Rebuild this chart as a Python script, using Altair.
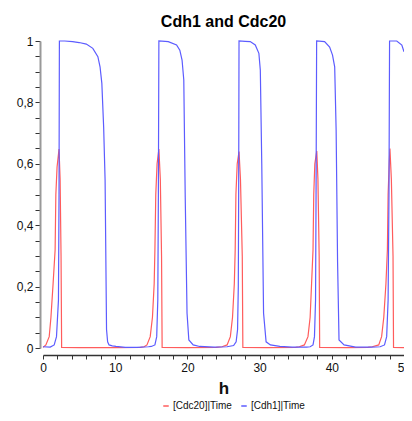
import altair as alt
import pandas as pd

# Cdh1 series (blue)
cdh1_t = [0, 1.0, 1.55, 1.87, 2.14, 2.22, 2.27, 3.0, 4.1, 5.0, 6.0, 6.9, 7.6, 7.9, 8.15, 8.4, 8.6, 8.8,
          8.95, 9.15, 9.6, 10.1, 11.4, 13.0, 14.6, 15.0, 15.5, 15.75, 15.9, 15.98, 16.05,
          17.35, 18.5, 18.95, 19.26, 19.5, 19.7, 19.95, 20.2, 20.8, 21.7, 23.7, 25.5, 26.4, 26.75,
          26.95, 27.05, 27.1, 27.15, 28.0, 28.7, 29.4, 29.9, 30.1, 30.3, 30.55, 30.9, 31.5, 32.8,
          34.5, 36.5, 37.0, 37.4, 37.6, 37.75, 37.82, 37.9, 39.0, 39.7, 40.1, 40.4, 40.6, 40.8,
          41.0, 41.7, 43.3, 45.5, 46.7, 47.3, 47.6, 47.8, 47.92, 48.0, 49.0, 49.7, 50.0]
cdh1_v = [0.004, 0.003, 0.01, 0.037, 0.156, 0.5, 1.0, 1.0, 0.998, 0.995, 0.99, 0.976, 0.949, 0.916,
          0.862, 0.72, 0.547, 0.06, 0.02, 0.01, 0.007, 0.005, 0.002, 0.002, 0.004, 0.005, 0.01,
          0.037, 0.156, 0.5, 1.0, 0.998, 0.987, 0.97, 0.938, 0.873, 0.49, 0.113, 0.026, 0.01,
          0.005, 0.003, 0.004, 0.008, 0.02, 0.06, 0.2, 0.5, 1.0, 0.999, 0.998, 0.987, 0.96, 0.905,
          0.6, 0.113, 0.02, 0.01, 0.005, 0.003, 0.003, 0.004, 0.01, 0.037, 0.156, 0.5, 1.0, 0.998,
          0.98, 0.954, 0.916, 0.71, 0.28, 0.026, 0.01, 0.003, 0.003, 0.004, 0.01, 0.037, 0.156,
          0.5, 1.0, 1.0, 0.987, 0.965]

# Cdc20 series (red)
cdc20_t = [0, 0.4, 0.86, 1.1, 1.4, 1.68, 1.78, 1.95, 2.22, 2.37, 2.5, 2.58, 5.0, 10.0, 13.5, 14.0,
           14.4, 14.85, 15.16, 15.4, 15.5, 15.62, 15.8, 16.05, 16.25, 16.42, 16.5, 20.0, 24.0, 24.8,
           25.5, 25.95, 26.25, 26.5, 26.62, 26.72, 26.9, 27.15, 27.35, 27.6, 27.68, 31.0, 35.0,
           35.5, 36.2, 36.7, 37.0, 37.2, 37.4, 37.5, 37.65, 37.92, 38.08, 38.25, 38.32, 42.0, 45.0,
           45.6, 46.5, 46.9, 47.2, 47.5, 47.7, 47.8, 47.95, 48.05, 48.25, 48.48, 48.55, 50.0]
cdc20_v = [0.002, 0.01, 0.037, 0.1, 0.21, 0.32, 0.5, 0.59, 0.648, 0.55, 0.3, 0.002, 0.001, 0.001,
           0.002, 0.004, 0.01, 0.037, 0.1, 0.21, 0.32, 0.5, 0.6, 0.648, 0.55, 0.3, 0.002, 0.001,
           0.002, 0.004, 0.01, 0.037, 0.1, 0.21, 0.32, 0.5, 0.6, 0.64, 0.55, 0.3, 0.002, 0.001,
           0.002, 0.004, 0.01, 0.037, 0.1, 0.21, 0.32, 0.5, 0.6, 0.642, 0.55, 0.3, 0.002, 0.001,
           0.002, 0.004, 0.01, 0.037, 0.1, 0.21, 0.32, 0.5, 0.6, 0.65, 0.55, 0.3, 0.002, 0.001]

series_names = ["[Cdc20]|Time", "[Cdh1]|Time"]
series_colors = ["#ff5c5c", "#5c5cff"]

x_ticks = list(range(0, 51, 2))
y_ticks = [round(i * 0.05, 2) for i in range(21)]

df = pd.concat([
    pd.DataFrame({"t": cdc20_t, "v": cdc20_v, "s": series_names[0], "o": range(len(cdc20_t))}),
    pd.DataFrame({"t": cdh1_t, "v": cdh1_v, "s": series_names[1], "o": range(len(cdh1_t))}),
])

FONT = "Liberation Sans"

chart = alt.Chart(df).mark_line(strokeWidth=1.2).encode(
    x=alt.X("t:Q", scale=alt.Scale(domain=[0, 50], nice=False),
            axis=alt.Axis(title="h", values=x_ticks,
                          labelExpr="datum.value % 10 == 0 ? datum.label : ''",
                          labelOverlap=False, labelFlush=False, offset=7, grid=False,
                          domainColor="#333333", domainWidth=1.5, tickColor="#333333",
                          tickSize=4, labelFontSize=12, labelPadding=3,
                          titleFontSize=17, titleFontWeight="bold", titlePadding=7)),
    y=alt.Y("v:Q", scale=alt.Scale(domain=[0, 1], nice=False),
            axis=alt.Axis(title=None, values=y_ticks,
                          labelExpr="round(datum.value*20) % 4 == 0 ? replace(format(datum.value, '~g'), '.', ',') : ''",
                          labelOverlap=False, offset=3, grid=False,
                          domainColor="#999999", domainWidth=2, tickColor="#333333",
                          tickSize=5, labelFontSize=12, labelPadding=2)),
    color=alt.Color("s:N", scale=alt.Scale(domain=series_names, range=series_colors),
                    legend=alt.Legend(title=None, orient="none", legendX=118, legendY=360,
                                      direction="horizontal", symbolType="stroke",
                                      symbolSize=30, symbolStrokeWidth=1.5, labelOffset=2,
                                      labelFontSize=10, columnPadding=6, symbolOffset=0)),
    order="o:Q",
).properties(
    width=361, height=307,
    title=alt.TitleParams("Cdh1 and Cdc20", fontSize=16, fontWeight="bold", anchor="middle",
                          offset=5, font=FONT),
    autosize=alt.AutoSizeParams(type="none"),
    padding={"left": 35, "top": 33, "right": 0, "bottom": 65},
).configure_view(stroke=None).configure_axis(
    labelFont=FONT, titleFont=FONT, labelColor="#111111", titleColor="#111111"
).configure_legend(labelFont=FONT, labelColor="#111111")

chart.save("out.html", embed_options={"renderer": "svg", "actions": False})
